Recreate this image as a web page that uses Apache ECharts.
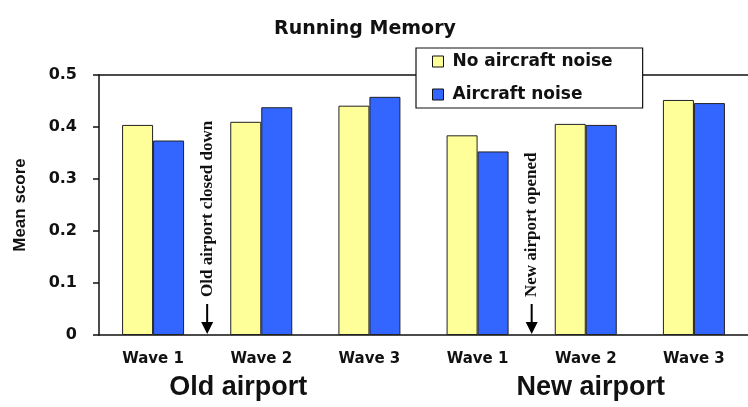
<!DOCTYPE html>
<html>
<head>
<meta charset="utf-8">
<script src="https://cdn.jsdelivr.net/npm/echarts@6/dist/echarts.min.js"></script>
<style>
  html, body { margin: 0; padding: 0; background: #fff; }
  #chart { width: 748px; height: 407px; }
</style>
</head>
<body>
<div id="chart"></div>
<script>
// data
const waves = ["Wave 1", "Wave 2", "Wave 3", "Wave 1", "Wave 2", "Wave 3"]
const groups = ["Old airport", "New airport"]
const seriesNames = ["No aircraft noise", "Aircraft noise"]
const noNoise = [0.404, 0.410, 0.441, 0.384, 0.406, 0.452]
const noise = [0.374, 0.438, 0.458, 0.353, 0.404, 0.446]
const yTicks = [0, 0.5, 0.1]   // min, max, interval
// annotations sit on the boundary between categories (0..6 scale)
const noteAt = [1, 4]
const noteText = ["Old airport closed down", "New airport opened"]

const myChart = echarts.init(document.getElementById("chart"))

const boldSans = "DejaVu Sans"

let option = {
  backgroundColor: "#fff",
  animation: false,
  title: {
    text: "Running Memory",
    left: 360,
    textAlign: "center",
    top: 15,
    textStyle: { fontFamily: boldSans, fontWeight: "bold", fontSize: 19, color: "#111" }
  },
  legend: {
    data: seriesNames,
    orient: "vertical",
    left: 416,
    top: 48,
    padding: [5, 30, 5, 16],
    itemGap: 16,
    itemWidth: 11,
    itemHeight: 11,
    icon: "rect",
    backgroundColor: "#fff",
    borderColor: "#111",
    borderWidth: 1.2,
    borderRadius: 0,
    z: 10,
    itemStyle: { borderColor: "#111", borderWidth: 1 },
    textStyle: {
      fontFamily: boldSans,
      fontWeight: "bold",
      fontSize: 17,
      color: "#111",
      padding: [0, 0, 0, 4]
    }
  },
  grid: {
    left: 99,
    top: 75,
    width: 658,
    bottom: 72
  },
  xAxis: [
    {
      type: "category",
      data: waves,
      axisLine: { lineStyle: { color: "#111", width: 1.5 } },
      axisTick: { show: false },
      axisLabel: {
        margin: 17,
        fontFamily: boldSans,
        fontWeight: "bold",
        fontSize: 15,
        color: "#111"
      }
    },
    {
      // hidden value scale across the bands, used for the arrows and the top border
      type: "value",
      min: 0,
      max: 6,
      position: "top",
      axisLine: { show: true, onZero: false, lineStyle: { color: "#111", width: 1.5 } },
      axisTick: { show: false },
      axisLabel: { show: false },
      splitLine: { show: false }
    },
    {
      type: "category",
      data: [
        { value: groups[0], textStyle: { padding: [0, 46, 0, 0] } },
        { value: groups[1], textStyle: { padding: [0, 0, 0, 10] } }
      ],
      position: "bottom",
      axisLine: { show: false },
      axisTick: { show: false },
      axisLabel: {
        margin: 39,
        fontFamily: "Liberation Sans",
        fontWeight: "bold",
        fontSize: 27,
        color: "#111"
      }
    }
  ],
  yAxis: {
    type: "value",
    min: yTicks[0],
    max: yTicks[1],
    interval: yTicks[2],
    name: "Mean score",
    nameLocation: "middle",
    nameRotate: 90,
    nameGap: 70,
    nameTextStyle: { fontFamily: "Liberation Sans", fontWeight: "bold", fontSize: 17, color: "#111" },
    axisLine: { show: true, lineStyle: { color: "#111", width: 1.5 } },
    axisTick: { show: true, length: 6, lineStyle: { color: "#111", width: 1.5 } },
    splitLine: { show: false },
    axisLabel: {
      margin: 22,
      fontFamily: boldSans,
      fontWeight: "bold",
      fontSize: 16,
      color: "#111"
    }
  },
  series: [
    {
      name: seriesNames[0],
      type: "bar",
      data: noNoise,
      barWidth: 31,
      barGap: "0%",
      itemStyle: { color: "#FFFF99", borderColor: "#222", borderWidth: 1 }
    },
    {
      name: seriesNames[1],
      type: "bar",
      data: noise,
      barWidth: 31,
      barGap: "0%",
      itemStyle: { color: "#3366FF", borderColor: "#222", borderWidth: 1 }
    },
    {
      type: "custom",
      xAxisIndex: 1,
      data: noteAt.map((x, i) => [x, 0, i]),
      silent: true,
      renderItem: function (params, api) {
        const p = api.coord([api.value(0), 0])
        const i = api.value(2)
        return {
          type: "group",
          children: [
            {
              type: "line",
              shape: { x1: p[0], y1: p[1] - 31, x2: p[0], y2: p[1] - 10 },
              style: { stroke: "#000", lineWidth: 2 }
            },
            {
              type: "polygon",
              shape: { points: [[p[0] - 6, p[1] - 13], [p[0] + 6, p[1] - 13], [p[0], p[1] - 1]] },
              style: { fill: "#000" }
            },
            {
              type: "text",
              x: p[0],
              y: p[1] - 38,
              rotation: Math.PI / 2,
              style: {
                text: noteText[i],
                align: "left",
                verticalAlign: "middle",
                fontFamily: "Liberation Serif",
                fontWeight: "bold",
                fontSize: 17,
                fill: "#111"
              }
            }
          ]
        }
      }
    }
  ]
}

myChart.setOption(option)
window.addEventListener("resize", function () {
  myChart.resize()
})
</script>
</body>
</html>
